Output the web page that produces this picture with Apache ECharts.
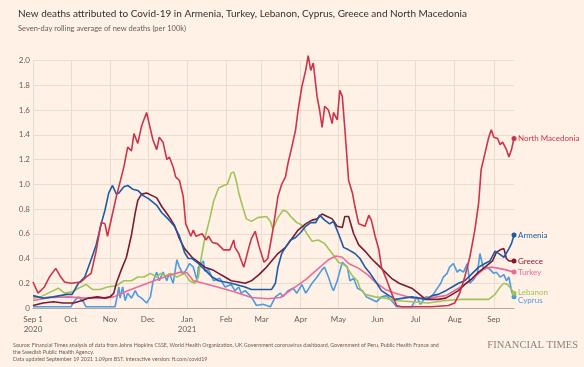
<!DOCTYPE html>
<html><head><meta charset="utf-8">
<script src="https://cdn.jsdelivr.net/npm/echarts@6/dist/echarts.min.js"></script>
<style>html,body{margin:0;padding:0;background:#fff1e5;}#c{width:584px;height:367px;}</style>
</head><body><div id="c"></div>
<script>
// Day offsets are days since 1 Sep 2020; values are deaths per 100k (7-day average)
const northMacedonia = [[0,0.21],[4,0.12],[9,0.17],[13,0.25],[18,0.32],[22,0.25],[25,0.21],[30,0.2],[38,0.21],[42,0.25],[46,0.28],[50,0.46],[54,0.69],[57,0.68],[59,0.58],[66,0.90],[72,1.14],[75,1.30],[78,1.27],[80,1.41],[83,1.33],[86,1.47],[90,1.58],[92,1.49],[95,1.36],[98,1.28],[100,1.38],[103,1.34],[106,1.20],[108,1.22],[111,1.14],[113,1.06],[116,1.03],[119,0.90],[121,0.68],[125,0.58],[127,0.63],[129,0.58],[134,0.60],[137,0.55],[139,0.58],[142,0.53],[146,0.52],[151,0.47],[156,0.47],[159,0.55],[160,0.49],[163,0.44],[164,0.41],[167,0.33],[171,0.49],[173,0.56],[176,0.62],[179,0.50],[183,0.37],[186,0.40],[190,0.63],[194,0.90],[197,1.00],[200,1.06],[202,1.17],[205,1.30],[208,1.44],[210,1.60],[213,1.79],[216,1.92],[218,2.04],[220,1.92],[222,1.98],[225,1.71],[227,1.60],[229,1.46],[231,1.63],[234,1.60],[237,1.49],[238,1.58],[241,1.52],[243,1.76],[245,1.71],[247,1.45],[250,1.03],[253,0.93],[255,0.82],[258,0.68],[263,0.66],[266,0.75],[268,0.71],[271,0.58],[274,0.47],[276,0.33],[280,0.23],[284,0.12],[288,0.02],[292,0.01],[316,0.01],[329,0.02],[334,0.04],[338,0.12],[342,0.25],[346,0.41],[350,0.63],[353,0.85],[355,1.12],[358,1.25],[361,1.38],[363,1.44],[365,1.38],[368,1.37],[370,1.32],[372,1.34],[375,1.28],[377,1.22],[379,1.28],[381,1.37]];
const armenia = [[0,0.10],[4,0.09],[8,0.08],[16,0.09],[27,0.11],[31,0.11],[36,0.20],[41,0.25],[46,0.39],[50,0.51],[54,0.68],[57,0.79],[60,0.93],[61,0.95],[63,0.99],[66,0.92],[68,0.93],[72,0.98],[75,0.99],[79,0.96],[83,0.95],[87,0.91],[92,0.88],[98,0.83],[102,0.77],[107,0.72],[112,0.66],[116,0.58],[120,0.45],[123,0.40],[126,0.40],[131,0.36],[136,0.31],[142,0.25],[147,0.22],[157,0.20],[168,0.17],[173,0.15],[179,0.15],[189,0.15],[192,0.20],[194,0.33],[197,0.44],[200,0.49],[204,0.55],[208,0.57],[212,0.61],[216,0.66],[220,0.69],[224,0.69],[227,0.75],[231,0.71],[235,0.68],[238,0.70],[242,0.60],[246,0.49],[250,0.47],[255,0.44],[259,0.40],[263,0.33],[267,0.28],[271,0.22],[276,0.14],[282,0.10],[287,0.07],[300,0.09],[311,0.07],[316,0.10],[321,0.11],[327,0.14],[332,0.17],[337,0.20],[342,0.22],[348,0.28],[353,0.33],[358,0.36],[362,0.38],[366,0.46],[369,0.44],[373,0.41],[377,0.48],[379,0.52],[381,0.59]];
const greece = [[0,0.02],[8,0.04],[16,0.05],[24,0.04],[32,0.04],[39,0.06],[44,0.08],[51,0.09],[57,0.08],[61,0.09],[64,0.12],[66,0.20],[70,0.31],[74,0.41],[78,0.59],[81,0.77],[83,0.87],[86,0.92],[90,0.93],[94,0.91],[98,0.89],[102,0.82],[107,0.75],[112,0.67],[116,0.56],[120,0.48],[126,0.41],[131,0.37],[136,0.33],[142,0.31],[147,0.28],[152,0.25],[157,0.22],[163,0.21],[168,0.20],[173,0.22],[179,0.27],[184,0.32],[189,0.38],[194,0.44],[200,0.49],[205,0.56],[210,0.63],[216,0.68],[221,0.71],[225,0.72],[229,0.76],[233,0.74],[237,0.72],[241,0.66],[245,0.65],[247,0.74],[250,0.74],[254,0.60],[258,0.51],[263,0.46],[268,0.40],[274,0.34],[279,0.29],[284,0.24],[290,0.20],[295,0.18],[300,0.16],[305,0.12],[311,0.07],[321,0.07],[327,0.08],[332,0.11],[337,0.14],[342,0.19],[348,0.24],[353,0.29],[358,0.33],[364,0.38],[367,0.45],[370,0.47],[373,0.48],[375,0.40],[377,0.38],[381,0.38]];
const turkey = [[0,0.06],[14,0.085],[28,0.09],[41,0.08],[53,0.08],[64,0.09],[75,0.14],[88,0.19],[96,0.22],[107,0.26],[117,0.29],[122,0.285],[127,0.22],[135,0.20],[146,0.17],[160,0.13],[173,0.085],[186,0.075],[196,0.085],[205,0.15],[216,0.23],[225,0.31],[234,0.39],[240,0.42],[245,0.41],[250,0.36],[258,0.32],[265,0.27],[271,0.21],[279,0.15],[287,0.12],[300,0.08],[313,0.08],[327,0.10],[337,0.16],[345,0.21],[353,0.28],[358,0.32],[364,0.33],[369,0.32],[374,0.31],[381,0.29]];
const lebanon = [[0,0.08],[6,0.09],[12,0.12],[20,0.16],[25,0.12],[31,0.13],[36,0.16],[42,0.19],[47,0.15],[53,0.15],[59,0.17],[66,0.18],[72,0.22],[78,0.22],[83,0.25],[88,0.25],[93,0.28],[98,0.25],[101,0.28],[105,0.26],[109,0.28],[114,0.25],[120,0.28],[124,0.22],[128,0.20],[131,0.25],[133,0.39],[136,0.56],[140,0.72],[143,0.86],[147,0.97],[151,0.99],[154,1.00],[157,1.09],[159,1.10],[161,1.03],[163,0.93],[166,0.82],[169,0.72],[173,0.70],[178,0.73],[185,0.74],[188,0.70],[190,0.64],[194,0.73],[198,0.79],[201,0.78],[205,0.73],[209,0.69],[213,0.67],[217,0.60],[221,0.54],[226,0.55],[231,0.52],[237,0.44],[242,0.37],[248,0.34],[253,0.26],[257,0.22],[259,0.16],[263,0.11],[271,0.09],[279,0.08],[287,0.06],[300,0.05],[313,0.04],[327,0.06],[340,0.07],[353,0.07],[361,0.07],[366,0.11],[370,0.17],[373,0.20],[376,0.19],[379,0.15],[381,0.12]];
const cyprus = [[0,0.01],[30,0.01],[33,0.06],[36,0.09],[40,0.05],[42,0.01],[65,0.01],[66,0.06],[68,0.17],[69,0.08],[71,0.17],[73,0.06],[75,0.12],[78,0.08],[81,0.14],[83,0.10],[86,0.08],[90,0.04],[93,0.09],[95,0.21],[98,0.29],[100,0.22],[103,0.29],[106,0.22],[108,0.28],[111,0.20],[114,0.39],[116,0.33],[119,0.27],[122,0.32],[124,0.36],[127,0.33],[130,0.22],[131,0.33],[135,0.38],[136,0.30],[139,0.31],[143,0.22],[148,0.24],[152,0.17],[157,0.19],[160,0.14],[163,0.17],[165,0.12],[168,0.14],[173,0.09],[177,0.02],[182,0.03],[185,0.02],[188,0.01],[192,0.09],[196,0.12],[198,0.09],[202,0.14],[206,0.16],[209,0.12],[213,0.19],[216,0.12],[218,0.15],[221,0.20],[225,0.25],[229,0.31],[231,0.33],[234,0.25],[237,0.16],[238,0.14],[241,0.22],[245,0.37],[246,0.38],[249,0.33],[251,0.22],[254,0.24],[257,0.16],[261,0.14],[264,0.09],[268,0.07],[272,0.05],[276,0.09],[280,0.10],[284,0.06],[288,0.01],[300,0.01],[304,0.09],[307,0.03],[311,0.09],[315,0.08],[319,0.14],[323,0.20],[325,0.25],[328,0.28],[330,0.33],[333,0.36],[336,0.29],[338,0.31],[341,0.29],[344,0.36],[346,0.20],[349,0.23],[352,0.28],[354,0.44],[357,0.31],[360,0.33],[362,0.31],[365,0.28],[367,0.29],[370,0.25],[373,0.27],[375,0.22],[377,0.25],[379,0.14],[381,0.09]];

const seriesNames = ['North Macedonia','Armenia','Greece','Turkey','Lebanon','Cyprus'];
const seriesColors = ['#cc3449','#1d5ba6','#7b1a34','#ea6b9a','#a1c35a','#4c9be0'];
const labelOffsets = [[0,0],[0,0],[0,0],[0,0],[0,-1],[0,4]];
const seriesData = [northMacedonia, armenia, greece, turkey, lebanon, cyprus];
const yTicks = [0,0.2,0.4,0.6,0.8,1.0,1.2,1.4,1.6,1.8,2.0];
const monthNames = ['Jan','Feb','Mar','Apr','May','Jun','Jul','Aug','Sep','Oct','Nov','Dec'];

// daily categories 1 Sep 2020 .. 17 Sep 2021
const dates = [];
for (let i = 0; i < 382; i++) {
  const d = new Date(Date.UTC(2020, 8, 1) + i * 86400000);
  dates.push(d.toISOString().slice(0,10));
}
const isMonthStart = (i, v) => v.slice(8,10) === '01';

const chart = echarts.init(document.getElementById('c'), null, {renderer:'canvas'});
const FONT = 'Lato, "Open Sans", sans-serif';

const series = seriesData.map((arr, k) => ({
  name: seriesNames[k],
  type: 'line',
  clip: false,
  symbol: 'none',
  showSymbol: true,
  showAllSymbol: true,
  smooth: false,
  lineStyle: {width: 1.6, color: seriesColors[k]},
  itemStyle: {color: seriesColors[k]},
  emphasis: {disabled: true},
  z: 10 - k,
  data: arr.map((p, i) => i === arr.length - 1
    ? {value: p, symbol: 'circle', symbolSize: 5}
    : p),
  endLabel: {
    show: true, formatter: '{a}', color: seriesColors[k], fontSize: 8,
    fontFamily: FONT, distance: 4, offset: labelOffsets[k]
  }
}));

chart.setOption({
  animation: false,
  backgroundColor: '#fff1e5',
  title: {
    left: 13, top: 4,
    text: 'New deaths attributed to Covid-19 in Armenia, Turkey, Lebanon, Cyprus, Greece and North Macedonia',
    subtext: 'Seven-day rolling average of new deaths (per 100k)',
    itemGap: 6,
    textStyle: {fontSize: 10, fontWeight: 'normal', color: '#33302e', fontFamily: FONT},
    subtextStyle: {fontSize: 7.5, color: '#66605c', fontFamily: FONT}
  },
  grid: {left: 33, right: 70, top: 60.5, bottom: 59, containLabel: false},
  xAxis: {
    type: 'category', data: dates, boundaryGap: false,
    axisLine: {show: true, lineStyle: {color: '#b0a79e', width: 1}},
    axisTick: {show: false},
    splitLine: {show: true, interval: isMonthStart, lineStyle: {color: '#eadccf', width: 1}},
    axisLabel: {
      interval: isMonthStart, color: '#66605c', fontSize: 8, fontFamily: FONT, margin: 6, lineHeight: 10,
      formatter: v => {
        const y = v.slice(0,4), m = +v.slice(5,7);
        if (y === '2020' && m === 9) return 'Sep 1\n2020';
        if (m === 1) return 'Jan\n' + y;
        return monthNames[m-1];
      }
    }
  },
  yAxis: {
    type: 'value', min: yTicks[0], max: yTicks[yTicks.length-1], interval: 0.2,
    axisLine: {show: false}, axisTick: {show: false},
    splitLine: {lineStyle: {color: '#eadccf', width: 1}},
    axisLabel: {color: '#66605c', fontSize: 8, fontFamily: FONT, margin: 3,
      formatter: v => v === 0 ? '0' : v.toFixed(1)}
  },
  series: series,
  graphic: [
    {type:'text', left: 13, top: 342, style:{text:'Source: Financial Times analysis of data from Johns Hopkins CSSE, World Health Organization, UK Government coronavirus dashboard, Government of Peru, Public Health France and\nthe Swedish Public Health Agency.\nData updated September 19 2021 1.09pm BST. Interactive version: ft.com/covid19', fontSize: 5.35, lineHeight: 6.8, fill:'#66605c', fontFamily: FONT}},
    {type:'text', right: 6, top: 340, style:{text:'FINANCIAL TIMES', fontSize: 10.5, fill:'#8a8580', fontFamily:'"Liberation Serif", serif'}}
  ]
});
</script>
</body></html>
